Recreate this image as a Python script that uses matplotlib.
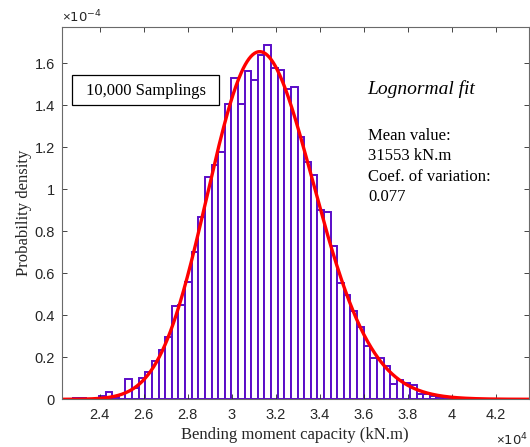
import numpy as np
import matplotlib.pyplot as plt
from matplotlib.ticker import FuncFormatter
from matplotlib.patches import Rectangle

# histogram: densities in units of 1e-4, uniform bins
bin_left = 22770.0
bin_width = 300.7
density = [0.004, 0.004, 0.0, 0.0, 0.017, 0.033, 0.010, 0.0, 0.098, 0.054,
           0.101, 0.131, 0.180, 0.235, 0.295, 0.442, 0.450, 0.558, 0.702,
           0.867, 1.058, 1.116, 1.175, 1.403, 1.531, 1.407, 1.560, 1.517,
           1.640, 1.688, 1.578, 1.568, 1.475, 1.486, 1.250, 1.129, 1.065,
           0.899, 0.893, 0.730, 0.555, 0.496, 0.422, 0.345, 0.255, 0.198,
           0.196, 0.160, 0.071, 0.090, 0.076, 0.068, 0.027, 0.025, 0.016,
           0.012, 0.010, 0.008, 0.007, 0.005, 0.003]

# lognormal fit parameters (shown in the chart)
mean_value = 31553.0
cov = 0.077

x_range = [22290.0, 43490.0]
y_range = [0.0, 1.77e-4]
x_ticks = [24000, 26000, 28000, 30000, 32000, 34000, 36000, 38000, 40000, 42000]
y_ticks = [0, 0.2e-4, 0.4e-4, 0.6e-4, 0.8e-4, 1.0e-4, 1.2e-4, 1.4e-4, 1.6e-4]

plt.rcParams['mathtext.fontset'] = 'custom'
plt.rcParams['mathtext.rm'] = 'Liberation Sans'
plt.rcParams['mathtext.it'] = 'Liberation Sans'

# pdf of the fitted lognormal
sig = np.sqrt(np.log(1 + cov**2))
mu = np.log(mean_value) - sig**2 / 2
xs = np.linspace(x_range[0], x_range[1], 500)
pdf = np.exp(-(np.log(xs) - mu)**2 / (2 * sig**2)) / (xs * sig * np.sqrt(2 * np.pi))

fig = plt.figure(figsize=(5.3, 4.47), dpi=100)
W, H = 530.0, 447.0
ax = fig.add_axes([62 / W, 1 - 399.3 / H, 466.5 / W, 372 / H])

edges = bin_left + bin_width * np.arange(len(density))
ax.bar(edges, np.array(density) * 1e-4, width=bin_width, align='edge',
       facecolor='white', edgecolor='#5a0cc8', linewidth=1.4)
ax.plot(xs, pdf, color='#ff0000', lw=2.4)

ax.set_xlim(x_range)
ax.set_ylim(y_range)
ax.set_xticks(x_ticks)
ax.set_yticks(y_ticks)
ax.xaxis.set_major_formatter(FuncFormatter(lambda v, p: '%g' % round(v / 1e4, 4)))
ax.yaxis.set_major_formatter(FuncFormatter(lambda v, p: '%g' % round(v / 1e-4, 4)))
ax.tick_params(direction='in', top=True, right=True, length=3.5, width=0.6,
               color='#262626', labelcolor='#262626', labelsize=10.5)
ax.tick_params(axis='x', pad=6)
ax.tick_params(axis='y', pad=5)
for lab in ax.get_xticklabels() + ax.get_yticklabels():
    lab.set_family('Liberation Sans')
for s in ax.spines.values():
    s.set_color('#6a6a6a')
    s.set_linewidth(0.8)

ax.set_xlabel('Bending moment capacity (kN.m)', family='Liberation Serif',
              fontsize=12, color='#262626', labelpad=4)
ax.set_ylabel('Probability density', family='Liberation Serif',
              fontsize=12, color='#262626', labelpad=2)

# exponent labels like MATLAB
ax.text(0.0, 1.006, r'$\times\mathregular{10^{-4}}$', transform=ax.transAxes,
        ha='left', va='bottom', fontsize=9.5, color='#262626')
ax.text(1.0, -0.109, r'$\times\mathregular{10^{4}}$', transform=ax.transAxes,
        ha='right', va='center', fontsize=9.5, color='#262626')

# sample box
fig.patches.append(Rectangle((72 / W, 1 - 105 / H), 147.3 / W, 30.3 / H,
                             transform=fig.transFigure, facecolor='white',
                             edgecolor='black', lw=0.9, zorder=5))
fig.text(145.6 / W, 1 - 95 / H, '10,000 Samplings', ha='center', va='baseline',
         family='Liberation Serif', fontsize=12, zorder=6)

# fit annotation
fig.text(367 / W, 1 - 94 / H, 'Lognormal fit', ha='left', va='baseline',
         family='Liberation Serif', style='italic', fontsize=14)
info = ['Mean value:', '31553 kN.m', 'Coef. of variation:', '0.077']
for i, t in enumerate(info):
    fig.text(368.5 / W, 1 - (140 + 20.3 * i) / H, t, ha='left', va='baseline',
             family='Liberation Serif', fontsize=12)

fig.savefig('out.png', dpi=100)
